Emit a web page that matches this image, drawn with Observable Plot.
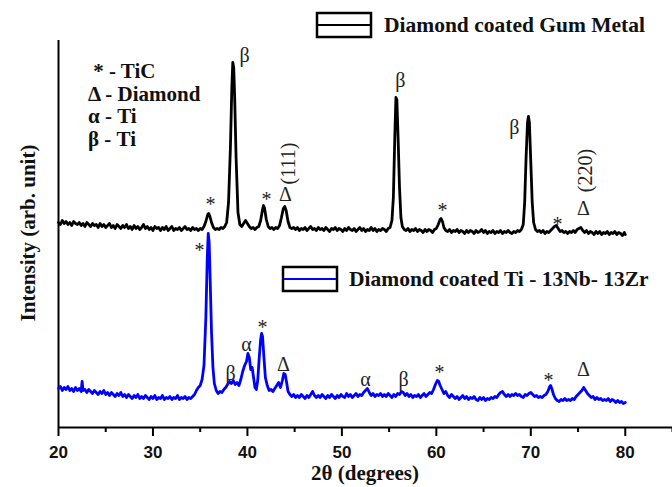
<!DOCTYPE html>
<html><head><meta charset="utf-8">
<script src="https://cdn.jsdelivr.net/npm/d3@7"></script>
<script src="https://cdn.jsdelivr.net/npm/@observablehq/plot@0.6"></script>
<style>body{margin:0;background:#fff}</style>
</head><body><div id="chart"></div>
<script>
// 2θ (degrees), intensity (arb. unit, stacked offset)
const gumMetal = [
[20.0,205],[20.2,203],[20.4,207],[20.6,204],[20.8,206],[21.0,203],[21.2,205],[21.4,202],[21.6,206],[21.8,204],
[22.0,203],[22.2,205],[22.4,202],[22.6,204],[22.8,201],[23.0,205],[23.2,203],[23.4,201],[23.6,204],[23.8,202],
[24.0,203],[24.2,200],[24.4,204],[24.6,201],[24.8,203],[25.0,200],[25.2,202],[25.4,204],[25.6,200],[25.8,202],
[26.0,199],[26.2,203],[26.4,201],[26.6,199],[26.8,202],[27.0,200],[27.2,203],[27.4,199],[27.6,201],[27.8,198],
[28.0,202],[28.2,199],[28.4,201],[28.6,198],[28.8,200],[29.0,203],[29.2,199],[29.4,201],[29.6,198],[29.8,200],
[30.0,197],[30.2,201],[30.4,199],[30.6,200],[30.8,197],[31.0,200],[31.2,198],[31.4,201],[31.6,197],[31.8,199],
[32.0,201],[32.2,197],[32.4,199],[32.6,198],[32.8,200],[33.0,197],[33.2,199],[33.4,201],[33.6,198],[33.8,199],
[34.0,197],[34.2,200],[34.4,198],[34.6,199],[34.8,197],[35.0,199],[35.2,198],[35.4,201],[35.6,206],[35.8,213],
[35.9,214],[36.0,212],[36.2,205],[36.4,200],[36.6,198],[36.8,199],[37.0,198],[37.2,200],[37.4,199],[37.6,201],
[37.8,205],[38.0,225],[38.2,280],[38.35,340],[38.45,365],[38.55,360],[38.65,330],[38.8,270],[39.0,215],[39.2,203],
[39.4,201],[39.6,204],[39.8,207],[40.0,204],[40.2,201],[40.4,199],[40.6,200],[40.8,198],[41.0,200],[41.2,201],
[41.4,207],[41.6,218],[41.7,222],[41.8,220],[42.0,208],[42.2,201],[42.4,199],[42.6,200],[42.8,198],[43.0,200],
[43.2,199],[43.4,202],[43.6,210],[43.8,219],[43.95,221],[44.1,217],[44.3,206],[44.5,200],[44.7,199],[44.9,200],
[45.1,198],[45.3,200],[45.5,197],[45.7,199],[45.9,198],[46.1,200],[46.3,197],[46.5,199],[46.7,201],[46.9,198],
[47.1,199],[47.3,197],[47.5,200],[47.7,198],[47.9,199],[48.1,197],[48.3,200],[48.5,198],[48.7,196],[48.9,199],
[49.1,198],[49.3,200],[49.5,197],[49.7,199],[49.9,198],[50.1,196],[50.3,199],[50.5,197],[50.7,200],[50.9,198],
[51.1,197],[51.3,199],[51.5,196],[51.7,198],[51.9,200],[52.1,197],[52.3,199],[52.5,196],[52.7,198],[52.9,197],
[53.1,200],[53.3,197],[53.5,199],[53.7,196],[53.9,198],[54.1,197],[54.3,199],[54.5,198],[54.7,196],[54.9,199],
[55.1,200],[55.3,207],[55.45,230],[55.6,290],[55.72,330],[55.82,328],[55.95,290],[56.1,240],[56.25,210],[56.4,201],
[56.6,198],[56.8,197],[57.0,199],[57.2,196],[57.4,198],[57.6,197],[57.8,199],[58.0,196],[58.2,198],[58.4,197],
[58.6,195],[58.8,198],[59.0,196],[59.2,198],[59.4,197],[59.6,195],[59.8,198],[60.0,199],[60.2,203],[60.4,208],
[60.5,209],[60.65,206],[60.8,200],[61.0,197],[61.2,196],[61.4,198],[61.6,195],[61.8,197],[62.0,196],[62.2,198],
[62.4,195],[62.6,197],[62.8,196],[63.0,194],[63.2,197],[63.4,195],[63.6,197],[63.8,196],[64.0,194],[64.2,197],
[64.4,195],[64.6,196],[64.8,198],[65.0,195],[65.2,197],[65.4,194],[65.6,196],[65.8,195],[66.0,197],[66.2,194],
[66.4,196],[66.6,195],[66.8,197],[67.0,194],[67.2,196],[67.4,195],[67.6,197],[67.8,195],[68.0,194],[68.2,196],
[68.4,195],[68.6,197],[68.8,196],[69.0,198],[69.2,203],[69.35,225],[69.5,270],[69.65,305],[69.75,311],[69.85,305],
[70.0,265],[70.15,225],[70.3,205],[70.5,198],[70.7,196],[70.9,197],[71.1,195],[71.3,197],[71.5,194],[71.7,196],
[71.9,195],[72.1,197],[72.3,199],[72.5,201],[72.7,202],[72.9,199],[73.1,196],[73.3,197],[73.5,195],[73.7,196],
[73.9,194],[74.1,196],[74.3,195],[74.5,197],[74.7,195],[74.9,198],[75.1,199],[75.3,200],[75.5,197],[75.7,195],
[75.9,197],[76.1,194],[76.3,196],[76.5,195],[76.7,193],[76.9,196],[77.1,194],[77.3,196],[77.5,193],[77.7,195],
[77.9,194],[78.1,196],[78.3,193],[78.5,195],[78.7,194],[78.9,196],[79.1,193],[79.3,195],[79.5,194],[79.7,192],
[79.9,195],[80.0,193]
];
const tiNbZr = [
[20.0,39],[20.2,41],[20.4,37],[20.6,40],[20.8,38],[21.0,41],[21.2,37],[21.4,39],[21.6,36],[21.8,40],
[22.0,37],[22.2,39],[22.4,36],[22.5,46],[22.6,37],[22.8,38],[23.0,35],[23.2,38],[23.4,36],[23.6,34],
[23.8,37],[24.0,35],[24.2,33],[24.4,36],[24.6,34],[24.8,37],[25.0,33],[25.2,35],[25.4,32],[25.6,35],
[25.8,33],[26.0,31],[26.2,34],[26.4,32],[26.6,35],[26.8,31],[27.0,33],[27.2,30],[27.4,33],[27.6,31],
[27.8,29],[28.0,32],[28.2,30],[28.4,33],[28.6,29],[28.8,31],[29.0,29],[29.2,32],[29.4,30],[29.6,28],
[29.8,31],[30.0,29],[30.2,32],[30.4,28],[30.6,30],[30.8,29],[31.0,32],[31.2,28],[31.4,30],[31.6,29],
[31.8,31],[32.0,28],[32.2,30],[32.4,29],[32.6,32],[32.8,28],[33.0,30],[33.2,29],[33.4,31],[33.6,28],
[33.8,30],[34.0,29],[34.2,31],[34.4,33],[34.6,37],[34.8,40],[35.0,42],[35.2,48],[35.4,62],[35.6,110],
[35.75,170],[35.85,194],[35.95,185],[36.05,150],[36.2,95],[36.35,60],[36.5,44],[36.7,37],[36.9,34],[37.1,36],
[37.3,35],[37.5,38],[37.7,40],[37.9,43],[38.1,46],[38.3,44],[38.5,47],[38.7,43],[38.9,45],[39.1,42],
[39.3,48],[39.5,56],[39.7,62],[39.9,66],[40.05,74],[40.2,70],[40.35,58],[40.5,60],[40.65,50],[40.8,40],
[40.95,38],[41.1,48],[41.25,70],[41.4,88],[41.5,94],[41.6,91],[41.75,70],[41.9,50],[42.1,42],[42.3,37],
[42.5,38],[42.7,36],[42.9,39],[43.1,42],[43.3,45],[43.5,40],[43.7,47],[43.85,54],[44.0,53],[44.15,45],
[44.3,36],[44.5,33],[44.7,31],[44.9,33],[45.1,30],[45.3,32],[45.5,30],[45.7,33],[45.9,31],[46.1,29],
[46.3,32],[46.5,30],[46.7,33],[46.9,36],[47.1,32],[47.3,30],[47.5,32],[47.7,30],[47.9,33],[48.1,31],
[48.3,29],[48.5,32],[48.7,30],[48.9,33],[49.1,31],[49.3,29],[49.5,32],[49.7,30],[49.9,33],[50.1,31],
[50.3,30],[50.5,34],[50.7,31],[50.9,33],[51.1,30],[51.3,32],[51.5,34],[51.7,31],[51.9,33],[52.1,32],
[52.3,35],[52.5,37],[52.7,39],[52.9,35],[53.1,32],[53.3,34],[53.5,31],[53.7,33],[53.9,32],[54.1,34],
[54.3,31],[54.5,33],[54.7,31],[54.9,34],[55.1,32],[55.3,30],[55.5,33],[55.7,31],[55.9,34],[56.1,33],
[56.3,36],[56.5,35],[56.7,32],[56.9,34],[57.1,31],[57.3,33],[57.5,30],[57.7,32],[57.9,31],[58.1,33],
[58.3,30],[58.5,32],[58.7,34],[58.9,31],[59.1,33],[59.3,35],[59.5,34],[59.7,38],[59.9,43],[60.1,47],
[60.25,46],[60.4,42],[60.6,38],[60.8,34],[61.0,36],[61.2,32],[61.4,30],[61.6,33],[61.8,31],[62.0,29],
[62.2,31],[62.4,28],[62.6,30],[62.8,32],[63.0,29],[63.2,31],[63.4,28],[63.6,30],[63.8,29],[64.0,31],
[64.2,28],[64.4,27],[64.6,30],[64.8,28],[65.0,30],[65.2,27],[65.4,29],[65.6,28],[65.8,30],[66.0,29],
[66.2,31],[66.4,30],[66.6,33],[66.8,35],[67.0,36],[67.2,33],[67.4,31],[67.6,33],[67.8,31],[68.0,33],
[68.2,32],[68.4,34],[68.6,32],[68.8,33],[69.0,31],[69.2,30],[69.4,33],[69.6,32],[69.8,34],[70.0,35],
[70.2,33],[70.4,31],[70.6,32],[70.8,30],[71.0,31],[71.2,30],[71.4,32],[71.6,33],[71.8,36],[72.0,41],
[72.1,42],[72.25,38],[72.4,33],[72.6,29],[72.8,27],[73.0,26],[73.2,28],[73.4,27],[73.6,29],[73.8,27],
[74.0,28],[74.2,27],[74.4,29],[74.6,28],[74.8,31],[75.0,33],[75.2,35],[75.4,37],[75.6,40],[75.8,37],
[76.0,34],[76.2,32],[76.4,30],[76.6,31],[76.8,28],[77.0,30],[77.2,28],[77.4,29],[77.6,27],[77.8,28],
[78.0,27],[78.2,29],[78.4,26],[78.6,28],[78.8,27],[79.0,25],[79.2,27],[79.4,25],[79.6,26],[79.8,24],
[80.0,25]
];
const majorTicks = [20,30,40,50,60,70,80];
const minorTicks = [25,35,45,55,65,75,85];
const seriesNames = ["Diamond coated Gum Metal","Diamond coated Ti - 13Nb- 13Zr"];
const seriesColors = ["#000000","#0000ff"];
const phaseKey = [" * - TiC","Δ - Diamond","α - Ti","β - Ti"];
const xTitle = "2θ (degrees)";
const yTitle = "Intensity (arb. unit)";
// peak labels: [2θ, intensity, label]
const gumLabels = [[39.69,372,"β"],[36.09,228,"*"],[42.02,233,"*"],[44.03,233,"Δ"],[56.2,347,"β"],[68.27,300,"β"],[60.65,222,"*"],[72.83,208,"*"],[75.58,219,"Δ"]];
const gumPlanes = [[44.35,264,"(111)"],[75.79,257,"(220)"]];
const tiLabels = [[34.93,182,"*"],[38.21,54,"β"],[39.9,83,"α"],[41.6,105,"*"],[43.82,63,"Δ"],[52.5,48,"α"],[56.52,48,"β"],[60.33,60,"*"],[71.87,52,"*"],[75.58,58,"Δ"]];

const serif = "'Liberation Serif', 'Times New Roman', serif";
const sans = "'Liberation Sans', Arial, sans-serif";
const labFont = {fontFamily: serif, fontSize: 20, fill: "#222", textAnchor: "middle", lineAnchor: "middle"};
const allLabels = gumLabels.concat(tiLabels);

const plot = Plot.plot({
  width: 672, height: 487,
  marginLeft: 58, marginRight: 0, marginTop: 40, marginBottom: 60,
  x: {domain: [20, 85]},
  y: {domain: [0, 387], axis: null},
  style: {background: "#fff", overflow: "visible"},
  marks: [
    Plot.axisX({ticks: majorTicks, tickSize: 9, tickPadding: 9, tickFormat: d => String(d), label: null,
      fontFamily: sans, fontSize: 17, fontWeight: "bold", fill: "#111", stroke: "#000", strokeWidth: 2}),
    Plot.axisX({ticks: minorTicks, tickSize: 5, text: null, label: null, stroke: "#000", strokeWidth: 2}),
    Plot.ruleY([0], {stroke: "#000", strokeWidth: 2}),
    Plot.ruleX([20], {stroke: "#000", strokeWidth: 2}),
    Plot.line(gumMetal, {x: d => d[0], y: d => d[1], stroke: seriesColors[0], strokeWidth: 2.8}),
    Plot.line(tiNbZr, {x: d => d[0], y: d => d[1], stroke: seriesColors[1], strokeWidth: 2.8}),
    Plot.text(allLabels.filter(d => d[2] !== "*"), {x: d => d[0], y: d => d[1], text: d => d[2], ...labFont}),
    Plot.text(allLabels.filter(d => d[2] === "*"), {x: d => d[0], y: d => d[1], text: d => d[2], ...labFont, dy: 5}),
    Plot.text(gumPlanes, {x: d => d[0], y: d => d[1], text: d => d[2], ...labFont, rotate: -90})
  ]
});
document.getElementById("chart").appendChild(plot);

const svg = d3.select(plot);
// axis titles
svg.append("text").attr("x", 365).attr("y", 480).attr("text-anchor", "middle")
  .attr("font-family", serif).attr("font-weight", "bold").attr("font-size", 21).attr("fill", "#111").text(xTitle);
svg.append("text").attr("transform", "translate(35,233) rotate(-90)").attr("text-anchor", "middle")
  .attr("font-family", serif).attr("font-weight", "bold").attr("font-size", 21).attr("fill", "#111").text(yTitle);
// phase key
const key = svg.append("text").attr("text-anchor", "start").attr("font-family", serif).attr("font-weight", "bold").attr("font-size", 21).attr("fill", "#111");
phaseKey.forEach((s, i) => key.append("tspan").attr("x", 88).attr("y", 78 + i * 22.7).attr("xml:space", "preserve").text(s));
// legends
const legends = [{x: 317, y: 13, tx: 384}, {x: 283, y: 267, tx: 349}];
legends.forEach((L, i) => {
  svg.append("rect").attr("x", L.x).attr("y", L.y).attr("width", 54).attr("height", 24)
    .attr("fill", "#fff").attr("stroke", "#000").attr("stroke-width", 2.5);
  svg.append("line").attr("x1", L.x + 1).attr("x2", L.x + 53).attr("y1", L.y + 12).attr("y2", L.y + 12)
    .attr("stroke", seriesColors[i]).attr("stroke-width", 2);
  svg.append("text").attr("x", L.tx).attr("y", L.y + 19).attr("text-anchor", "start").attr("font-family", serif).attr("font-weight", "bold")
    .attr("font-size", 21.5).attr("fill", "#111").text(seriesNames[i]);
});
</script>
</body></html>
